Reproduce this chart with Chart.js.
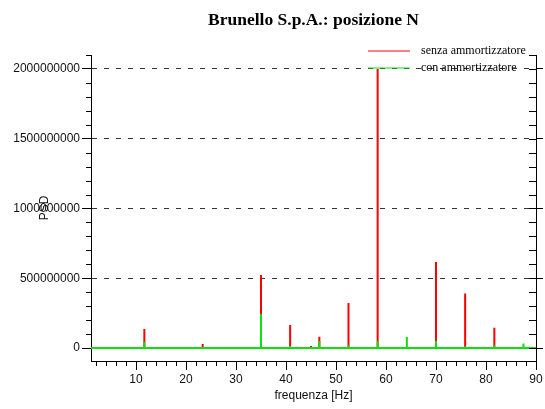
<!DOCTYPE html>
<html>
<head>
<meta charset="utf-8">
<script src="https://cdn.jsdelivr.net/npm/chart.js@4/dist/chart.umd.min.js"></script>
<style>
html, body { margin: 0; padding: 0; background: #fff; }
</style>
</head>
<body>
<canvas id="psdChart" width="545" height="409"></canvas>
<script>
// peaks of the spectrum (Hz) and PSD values
const peakFreq = [11.67, 23.33, 35.0, 40.83, 45.0, 46.67, 52.5, 58.33, 64.17, 70.0, 75.83, 81.67, 87.5];
const psdSenza = [136e6, 28e6, 523e6, 165e6, 15e6, 80e6, 323e6, 2000e6, 10e6, 617e6, 390e6, 145e6, 10e6];
const psdCon   = [45e6, 5e6, 244e6, 15e6, 0, 50e6, 20e6, 50e6, 79e6, 50e6, 12e6, 20e6, 32e6];
const xTicks = [10, 20, 30, 40, 50, 60, 70, 80, 90];
const yTicks = [0, 500000000, 1000000000, 1500000000, 2000000000];
const freqMin = 1, freqMax = 90;
const psdMin = -93e6, psdMax = 2100e6;

function spikes(values) {
    let pts = [{x: freqMin, y: 0}];
    peakFreq.forEach((f, i) => {
        pts.push({x: f, y: 0}, {x: f, y: values[i]}, {x: f, y: 0});
    });
    pts.push({x: freqMax, y: 0});
    return pts;
}

// minor ticks + legend drawn on top
const extras = {
    id: 'extras',
    afterDraw(chart) {
        const {ctx, chartArea: a, scales: {x, y}} = chart;
        ctx.save();
        ctx.strokeStyle = '#000';
        ctx.lineWidth = 1;
        ctx.beginPath();
        for (let v = 0; v <= psdMax; v += 1e8) {
            let py = Math.round(y.getPixelForValue(v)) + 0.5;
            if (v % 5e8 !== 0) {
                ctx.moveTo(a.left - 5, py);
                ctx.lineTo(a.left, py);
            }
            ctx.moveTo(a.right - 7, py);
            ctx.lineTo(a.right, py);
        }
        for (let f = 2; f < freqMax; f += 2) {
            if (f % 10 === 0) continue;
            let px = Math.round(x.getPixelForValue(f)) + 0.5;
            ctx.moveTo(px, a.bottom);
            ctx.lineTo(px, a.bottom + 5);
        }
        ctx.stroke();

        ctx.font = '12px "Liberation Serif", "Times New Roman", serif';
        ctx.textBaseline = 'middle';
        ctx.fillStyle = '#000';
        chart.data.datasets.forEach((ds, i) => {
            let ly = 51 + i * 17;
            ctx.strokeStyle = ds.borderColor;
            ctx.beginPath();
            ctx.moveTo(368, ly);
            ctx.lineTo(410, ly);
            ctx.stroke();
            ctx.fillText(ds.label, 421, ly);
        });
        ctx.restore();
    }
};

Chart.defaults.font.family = '"Liberation Sans", Arial, sans-serif';
Chart.defaults.font.size = 12;
Chart.defaults.color = '#111';

let ctx = document.getElementById('psdChart').getContext('2d');
let myChart = new Chart(ctx, {
    type: 'line',
    data: {
        datasets: [{
            label: 'senza ammortizzatore',
            data: spikes(psdSenza),
            borderColor: '#ff0000',
            borderWidth: 2,
            borderJoinStyle: 'bevel',
            pointRadius: 0,
            tension: 0,
            order: 2
        }, {
            label: 'con ammortizzatore',
            data: spikes(psdCon),
            borderColor: '#11dd11',
            borderWidth: 2,
            borderJoinStyle: 'bevel',
            pointRadius: 0,
            tension: 0,
            order: 1
        }]
    },
    options: {
        responsive: false,
        animation: false,
        layout: { padding: 0 },
        plugins: {
            legend: { display: false },
            tooltip: { enabled: false },
            title: {
                display: true,
                text: 'Brunello S.p.A.: posizione N',
                fullSize: false,
                color: '#000',
                font: { family: '"Liberation Serif", "Times New Roman", serif', size: 17.5, weight: 'bold' },
                padding: { top: 10, bottom: 24 }
            }
        },
        scales: {
            x: {
                type: 'linear',
                min: freqMin,
                max: freqMax,
                afterBuildTicks: s => { s.ticks = xTicks.map(v => ({value: v})); },
                afterFit: s => { s.height = 48; },
                ticks: { autoSkip: false, maxRotation: 0, padding: 2 },
                grid: { drawOnChartArea: false, tickLength: 9, tickColor: '#000' },
                border: { color: '#000', width: 1 },
                title: { display: true, text: 'frequenza [Hz]', color: '#111', padding: { top: 0, bottom: 6 } }
            },
            y: {
                position: 'left',
                min: psdMin,
                max: psdMax,
                afterBuildTicks: s => { s.ticks = yTicks.map(v => ({value: v})); },
                afterFit: s => { s.width = 91; },
                ticks: { padding: 2, callback: v => v.toFixed(0) },
                grid: {
                    color: c => c.tick && c.tick.value === 0 ? 'rgba(0,0,0,0)' : '#333',
                    tickColor: '#000',
                    tickLength: 9
                },
                border: { color: '#000', width: 1, dash: [5, 7] },
                title: { display: true, text: 'PSD', color: '#111', padding: { top: 37, bottom: 0 } }
            },
            y2: {
                position: 'right',
                min: psdMin,
                max: psdMax,
                afterBuildTicks: s => { s.ticks = yTicks.map(v => ({value: v})); },
                afterFit: s => { s.width = 9; },
                ticks: { display: false },
                grid: { drawOnChartArea: false, tickColor: '#000', tickLength: 7 },
                border: { color: '#000', width: 1 }
            }
        }
    },
    plugins: [extras]
});
</script>
</body>
</html>
